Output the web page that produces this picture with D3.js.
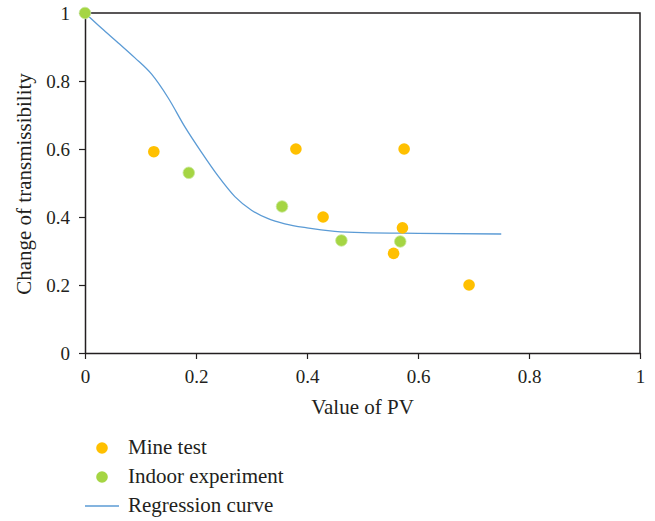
<!DOCTYPE html>
<html>
<head>
<meta charset="utf-8">
<script src="https://cdn.jsdelivr.net/npm/d3@7"></script>
<style>
  html, body { margin: 0; padding: 0; background: #fff; }
  svg { display: block; }
  text { font-family: "Liberation Serif", "Times New Roman", serif; fill: #231f20; }
</style>
</head>
<body>
<script>
// Field measurements (mine test) and lab measurements (indoor experiment)
const minePV = [0.124, 0.380, 0.575, 0.429, 0.572, 0.556, 0.692];
const mineChange = [0.592, 0.600, 0.600, 0.400, 0.368, 0.293, 0.200];

const indoorPV = [0.000, 0.187, 0.355, 0.462, 0.568];
const indoorChange = [1.000, 0.530, 0.431, 0.331, 0.328];

// Fitted regression curve
const curvePV = [0, 0.03, 0.06, 0.09, 0.12, 0.15, 0.18, 0.21, 0.24, 0.27, 0.30, 0.33, 0.36, 0.40, 0.45, 0.50, 0.60, 0.75];
const curveChange = [1.0, 0.955, 0.912, 0.868, 0.82, 0.75, 0.665, 0.59, 0.52, 0.46, 0.42, 0.395, 0.38, 0.368, 0.358, 0.354, 0.352, 0.35];

const xTicks = [0, 0.2, 0.4, 0.6, 0.8, 1];
const yTicks = [0, 0.2, 0.4, 0.6, 0.8, 1];
const tickFormat = d => d === 0 || d === 1 ? String(d) : d.toFixed(1);

const W = 655, H = 521;
const margin = { left: 85, right: 15, top: 13, bottom: 168 };
const innerW = W - margin.left - margin.right;
const innerH = H - margin.top - margin.bottom;

const ORANGE = "#ffc000", GREEN = "#a5d543", BLUE = "#5b9bd5", INK = "#231f20";

const svg = d3.select("body").append("svg").attr("width", W).attr("height", H);
const g = svg.append("g").attr("transform", `translate(${margin.left},${margin.top})`);

const x = d3.scaleLinear().domain([0, 1]).range([0, innerW]);
const y = d3.scaleLinear().domain([0, 1]).range([innerH, 0]);

// Plot frame (top and right edges)
g.append("path")
  .attr("d", `M0,0H${innerW}V${innerH}`)
  .attr("fill", "none").attr("stroke", INK).attr("stroke-width", 1.5);

// Axes
const xAxis = g.append("g").attr("transform", `translate(0,${innerH})`)
  .call(d3.axisBottom(x).tickValues(xTicks).tickFormat(tickFormat).tickSize(6).tickSizeOuter(0));
const yAxis = g.append("g")
  .call(d3.axisLeft(y).tickValues(yTicks).tickFormat(tickFormat).tickSize(6).tickSizeOuter(0));

[xAxis, yAxis].forEach(a => {
  a.select(".domain").attr("stroke", INK).attr("stroke-width", 1.5);
  a.selectAll(".tick line").attr("stroke", INK).attr("stroke-width", 1.2);
  a.selectAll(".tick text").attr("font-size", 19).attr("fill", INK)
    .style("font-family", '"Liberation Serif", serif');
});
xAxis.selectAll(".tick text").attr("dy", "0.71em").attr("y", 17);
yAxis.selectAll(".tick text").attr("x", -15);

// Axis titles
g.append("text")
  .attr("x", innerW / 2).attr("y", innerH + 61)
  .attr("text-anchor", "middle").attr("font-size", 21)
  .text("Value of PV");
g.append("text")
  .attr("transform", `translate(${-54},${innerH / 2 + 1}) rotate(-90)`)
  .attr("text-anchor", "middle").attr("font-size", 21)
  .text("Change of transmissibility");

// Regression curve
const curveData = curvePV.map((v, i) => [v, curveChange[i]]);
g.append("path")
  .datum(curveData)
  .attr("fill", "none").attr("stroke", BLUE).attr("stroke-width", 1.3)
  .attr("d", d3.line().x(d => x(d[0])).y(d => y(d[1])).curve(d3.curveMonotoneX));

// Points
g.selectAll("circle.mine")
  .data(minePV.map((v, i) => [v, mineChange[i]]))
  .join("circle").attr("class", "mine")
  .attr("cx", d => x(d[0])).attr("cy", d => y(d[1])).attr("r", 5.8)
  .attr("fill", ORANGE);

g.selectAll("circle.indoor")
  .data(indoorPV.map((v, i) => [v, indoorChange[i]]))
  .join("circle").attr("class", "indoor")
  .attr("cx", d => x(d[0])).attr("cy", d => y(d[1])).attr("r", 5.8)
  .attr("fill", GREEN).attr("stroke", "#c8e89a").attr("stroke-width", 0.8);

// Legend
const legend = svg.append("g");
const items = [
  { label: "Mine test", type: "dot", color: ORANGE, y: 448 },
  { label: "Indoor experiment", type: "dot", color: GREEN, y: 477 },
  { label: "Regression curve", type: "line", color: BLUE, y: 506 }
];
items.forEach(it => {
  if (it.type === "dot") {
    legend.append("circle").attr("cx", 102).attr("cy", it.y).attr("r", 5.8).attr("fill", it.color);
  } else {
    legend.append("line").attr("x1", 85).attr("x2", 119).attr("y1", it.y).attr("y2", it.y)
      .attr("stroke", it.color).attr("stroke-width", 1.3);
  }
  legend.append("text").attr("x", 128).attr("y", it.y + 6).attr("font-size", 21).text(it.label);
});
</script>
</body>
</html>
